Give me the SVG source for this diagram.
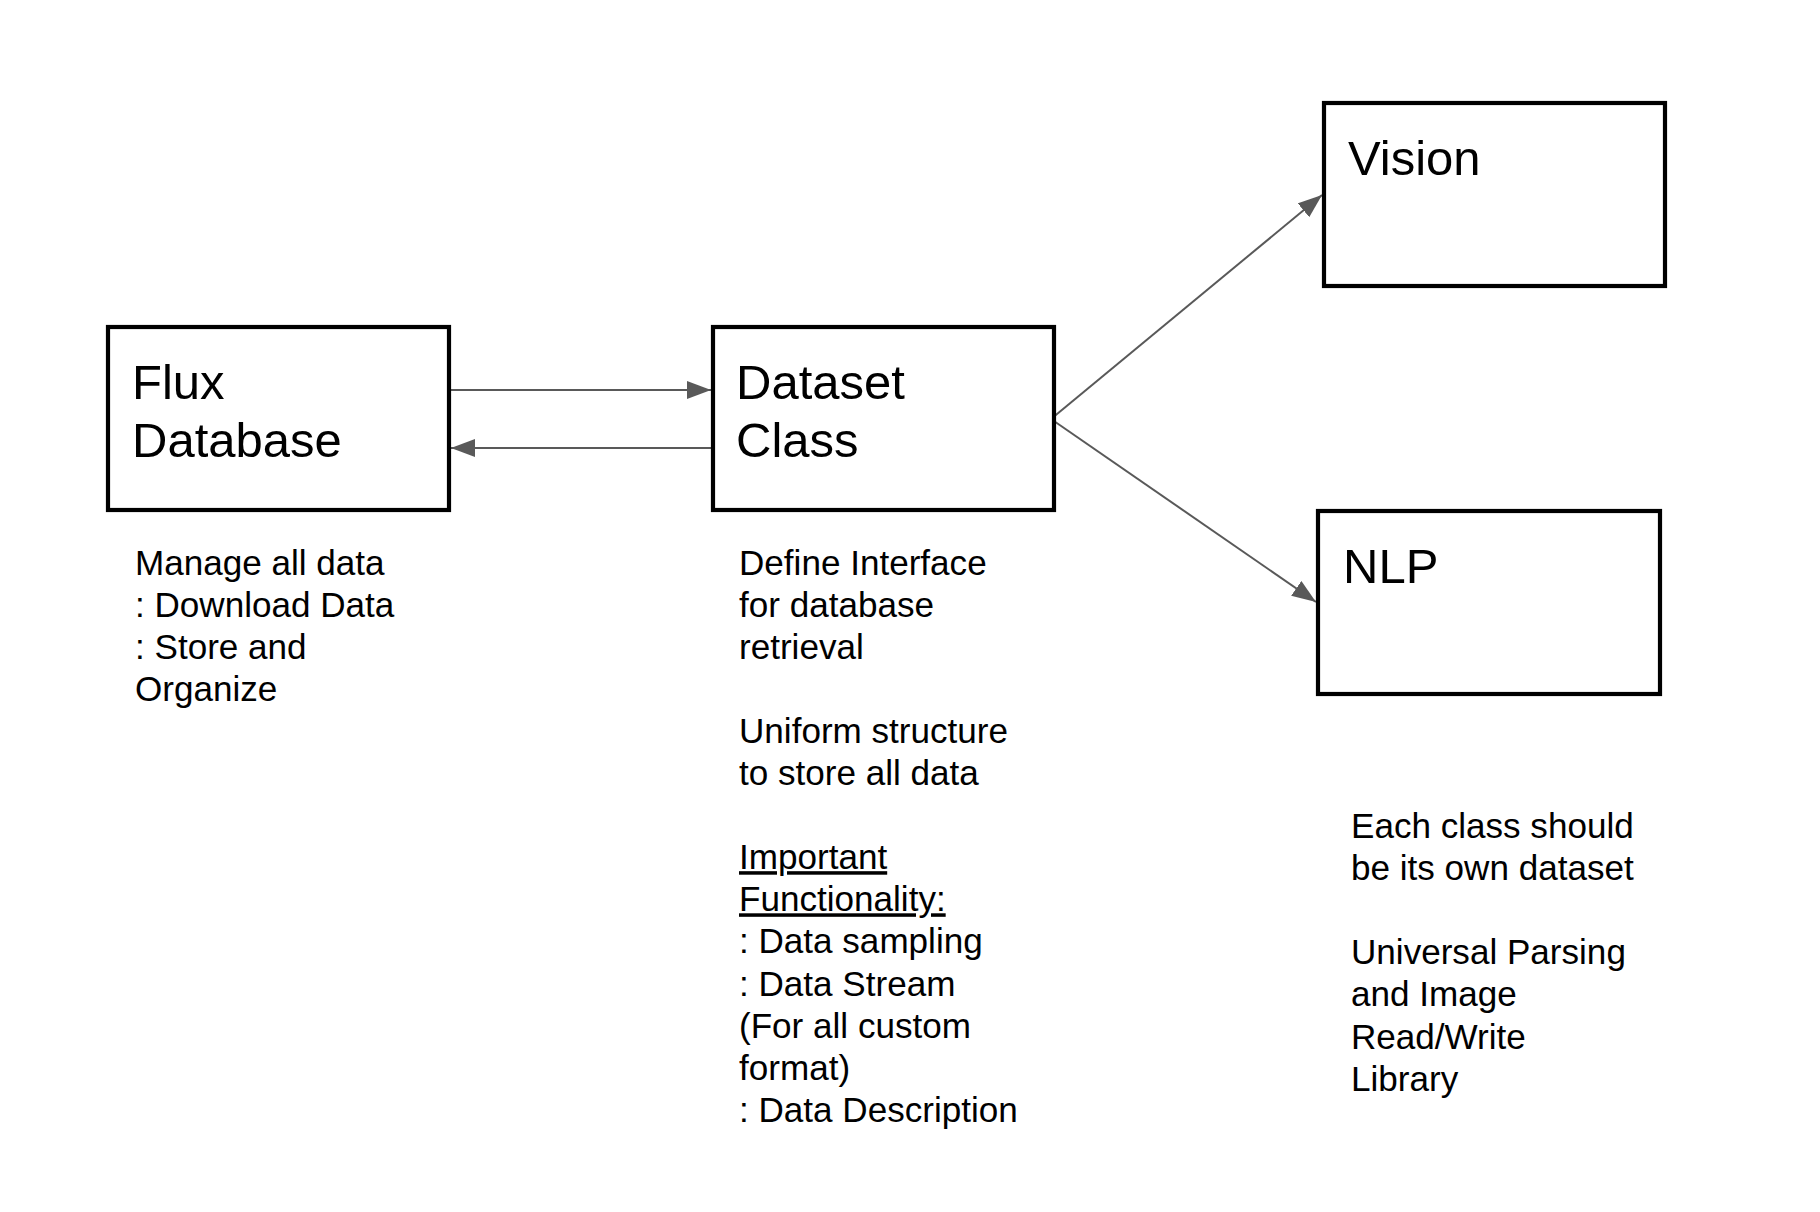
<svg xmlns="http://www.w3.org/2000/svg" width="1820" height="1212" viewBox="0 0 1820 1212">
  <style>
    .box { fill: #ffffff; stroke: #000000; stroke-width: 4.2; }
    .title { font-family: "Liberation Sans", Arial, sans-serif; font-size: 49px; fill: #000000; }
    .desc { font-family: "Liberation Sans", Arial, sans-serif; font-size: 35.1px; fill: #000000; }
    .conn { fill: none; stroke: #595959; stroke-width: 2; }
    .u { text-decoration: underline; }
  </style>
  <defs>
    <marker id="arrow" viewBox="0 0 24 18" refX="24" refY="9" markerWidth="24" markerHeight="18" markerUnits="userSpaceOnUse" orient="auto">
      <path d="M0,0 L24,9 L0,18 z" fill="#595959"/>
    </marker>
  </defs>
  <rect width="1820" height="1212" fill="#ffffff"/>

  <g id="connectors">
    <line class="conn" x1="449" y1="390" x2="711" y2="390" marker-end="url(#arrow)"/>
    <line class="conn" x1="713" y1="448" x2="451" y2="448" marker-end="url(#arrow)"/>
    <line class="conn" x1="1051" y1="419" x2="1322" y2="195" marker-end="url(#arrow)"/>
    <line class="conn" x1="1051" y1="419" x2="1316" y2="602" marker-end="url(#arrow)"/>
  </g>

  <g id="flux-database">
    <rect class="box" x="108" y="327" width="341" height="183"/>
    <text class="title" x="132" y="399">Flux</text>
    <text class="title" x="132" y="457.3">Database</text>
  </g>

  <g id="dataset-class">
    <rect class="box" x="713" y="327" width="341" height="183"/>
    <text class="title" x="736" y="399">Dataset</text>
    <text class="title" x="736" y="457.3">Class</text>
  </g>

  <g id="vision">
    <rect class="box" x="1324" y="103" width="341" height="183"/>
    <text class="title" x="1348" y="175">Vision</text>
  </g>

  <g id="nlp">
    <rect class="box" x="1318" y="511" width="342" height="183"/>
    <text class="title" x="1343" y="583">NLP</text>
  </g>

  <g id="flux-notes">
    <text class="desc" x="135" y="574.5">Manage all data</text>
    <text class="desc" x="135" y="616.6">: Download Data</text>
    <text class="desc" x="135" y="658.7">: Store and</text>
    <text class="desc" x="135" y="700.8">Organize</text>
  </g>

  <g id="dataset-notes">
    <text class="desc" x="739" y="574.5">Define Interface</text>
    <text class="desc" x="739" y="616.6">for database</text>
    <text class="desc" x="739" y="658.7">retrieval</text>
    <text class="desc" x="739" y="742.9">Uniform structure</text>
    <text class="desc" x="739" y="785">to store all data</text>
    <text class="desc u" x="739" y="869.2">Important</text>
    <text class="desc u" x="739" y="911.3">Functionality:</text>
    <text class="desc" x="739" y="953.4">: Data sampling</text>
    <text class="desc" x="739" y="995.5">: Data Stream</text>
    <text class="desc" x="739" y="1037.6">(For all custom</text>
    <text class="desc" x="739" y="1079.7">format)</text>
    <text class="desc" x="739" y="1121.8">: Data Description</text>
  </g>

  <g id="class-notes">
    <text class="desc" x="1351" y="838">Each class should</text>
    <text class="desc" x="1351" y="880.1">be its own dataset</text>
    <text class="desc" x="1351" y="964.3">Universal Parsing</text>
    <text class="desc" x="1351" y="1006.4">and Image</text>
    <text class="desc" x="1351" y="1048.5">Read/Write</text>
    <text class="desc" x="1351" y="1090.6">Library</text>
  </g>
</svg>
